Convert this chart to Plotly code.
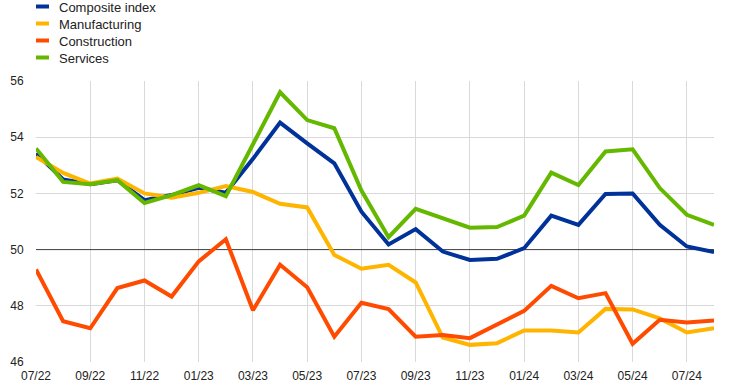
import plotly.graph_objects as go

months = ["07/22", "08/22", "09/22", "10/22", "11/22", "12/22", "01/23", "02/23", "03/23",
          "04/23", "05/23", "06/23", "07/23", "08/23", "09/23", "10/23", "11/23", "12/23",
          "01/24", "02/24", "03/24", "04/24", "05/24", "06/24", "07/24", "08/24"]
tick_labels = months[::2]
threshold = 50

composite = [53.42, 52.50, 52.33, 52.47, 51.76, 51.94, 52.20, 52.02, 53.23,
             54.52, 53.78, 53.07, 51.35, 50.18, 50.73, 49.93, 49.63, 49.67,
             50.05, 51.21, 50.88, 51.98, 52.00, 50.88, 50.11, 49.91]
manufacturing = [53.30, 52.73, 52.35, 52.53, 52.00, 51.85, 52.02, 52.26, 52.05,
                 51.63, 51.50, 49.81, 49.32, 49.46, 48.83, 46.87, 46.61, 46.67,
                 47.12, 47.12, 47.05, 47.89, 47.87, 47.55, 47.05, 47.20]
construction = [49.29, 47.45, 47.20, 48.63, 48.90, 48.33, 49.58, 50.37, 47.84,
                49.46, 48.66, 46.90, 48.11, 47.88, 46.90, 46.96, 46.85, 47.35,
                47.82, 48.71, 48.27, 48.45, 46.65, 47.50, 47.41, 47.48]
services = [53.60, 52.41, 52.33, 52.47, 51.66, 51.94, 52.29, 51.90, 53.75,
            55.60, 54.61, 54.32, 52.10, 50.44, 51.45, 51.12, 50.78, 50.80,
            51.21, 52.74, 52.30, 53.49, 53.57, 52.19, 51.24, 50.88]

series = [
    ("Composite index", composite, "#003299"),
    ("Manufacturing", manufacturing, "#ffb400"),
    ("Construction", construction, "#ff4b00"),
    ("Services", services, "#65b800"),
]

W, H = 742, 387
L, R, T, B = 36, 28, 81, 25
pw, ph = W - L - R, H - T - B

fig = go.Figure()
# 50 reference line (drawn first, beneath the series)
fig.add_trace(go.Scatter(x=[months[0], months[-1]], y=[threshold, threshold], mode="lines",
                         line=dict(color="#404040", width=1), showlegend=False,
                         hoverinfo="skip"))
for name, vals, col in series:
    fig.add_trace(go.Scatter(x=months, y=vals, mode="lines", name=name,
                             line=dict(color=col, width=4), showlegend=False))

# custom legend
leg_y = [6.5, 23.5, 40.5, 57.5]
for (name, vals, col), py in zip(series, leg_y):
    yp = (H - B - py) / ph
    x0 = (36 - L) / pw
    x1 = (49 - L) / pw
    fig.add_shape(type="line", xref="paper", yref="paper", x0=x0, x1=x1, y0=yp, y1=yp,
                  line=dict(color=col, width=4))
    fig.add_annotation(xref="paper", yref="paper", x=(57 - L) / pw, y=(H - B - py - 1) / ph,
                       text=name, showarrow=False, xanchor="left", yanchor="middle",
                       font=dict(size=13, color="#222", family="Arial, Liberation Sans"))

fig.update_layout(
    width=W, height=H,
    margin=dict(l=L, r=R, t=T, b=B),
    plot_bgcolor="white", paper_bgcolor="white",
    font=dict(family="Arial, Liberation Sans", size=12, color="#222"),
    xaxis=dict(type="category", categoryorder="array", categoryarray=months,
               range=[0, len(months) - 1], tickmode="array",
               tickvals=tick_labels, ticktext=tick_labels, showgrid=True,
               gridcolor="#d9d9d9", gridwidth=1, zeroline=False, showline=False,
               ticks="outside", ticklen=3, tickcolor="rgba(0,0,0,0)",
               tickfont=dict(size=12), automargin=False),
    yaxis=dict(range=[46, 56], tickvals=[46, 48, 50, 52, 54, 56], showgrid=True,
               gridcolor="#d9d9d9", gridwidth=1, zeroline=False, showline=False,
               ticks="outside", ticklen=9, tickcolor="rgba(0,0,0,0)",
               tickfont=dict(size=12), automargin=False),
)

fig.write_html("out.html", config={"displayModeBar": False})

# remove default page margin so the figure sits at the window's top-left corner
with open("out.html", "r", encoding="utf-8") as f:
    html = f.read()
html = html.replace("<head>", "<head><style>html,body{margin:0;padding:0;overflow:hidden;}</style>", 1)
with open("out.html", "w", encoding="utf-8") as f:
    f.write(html)
